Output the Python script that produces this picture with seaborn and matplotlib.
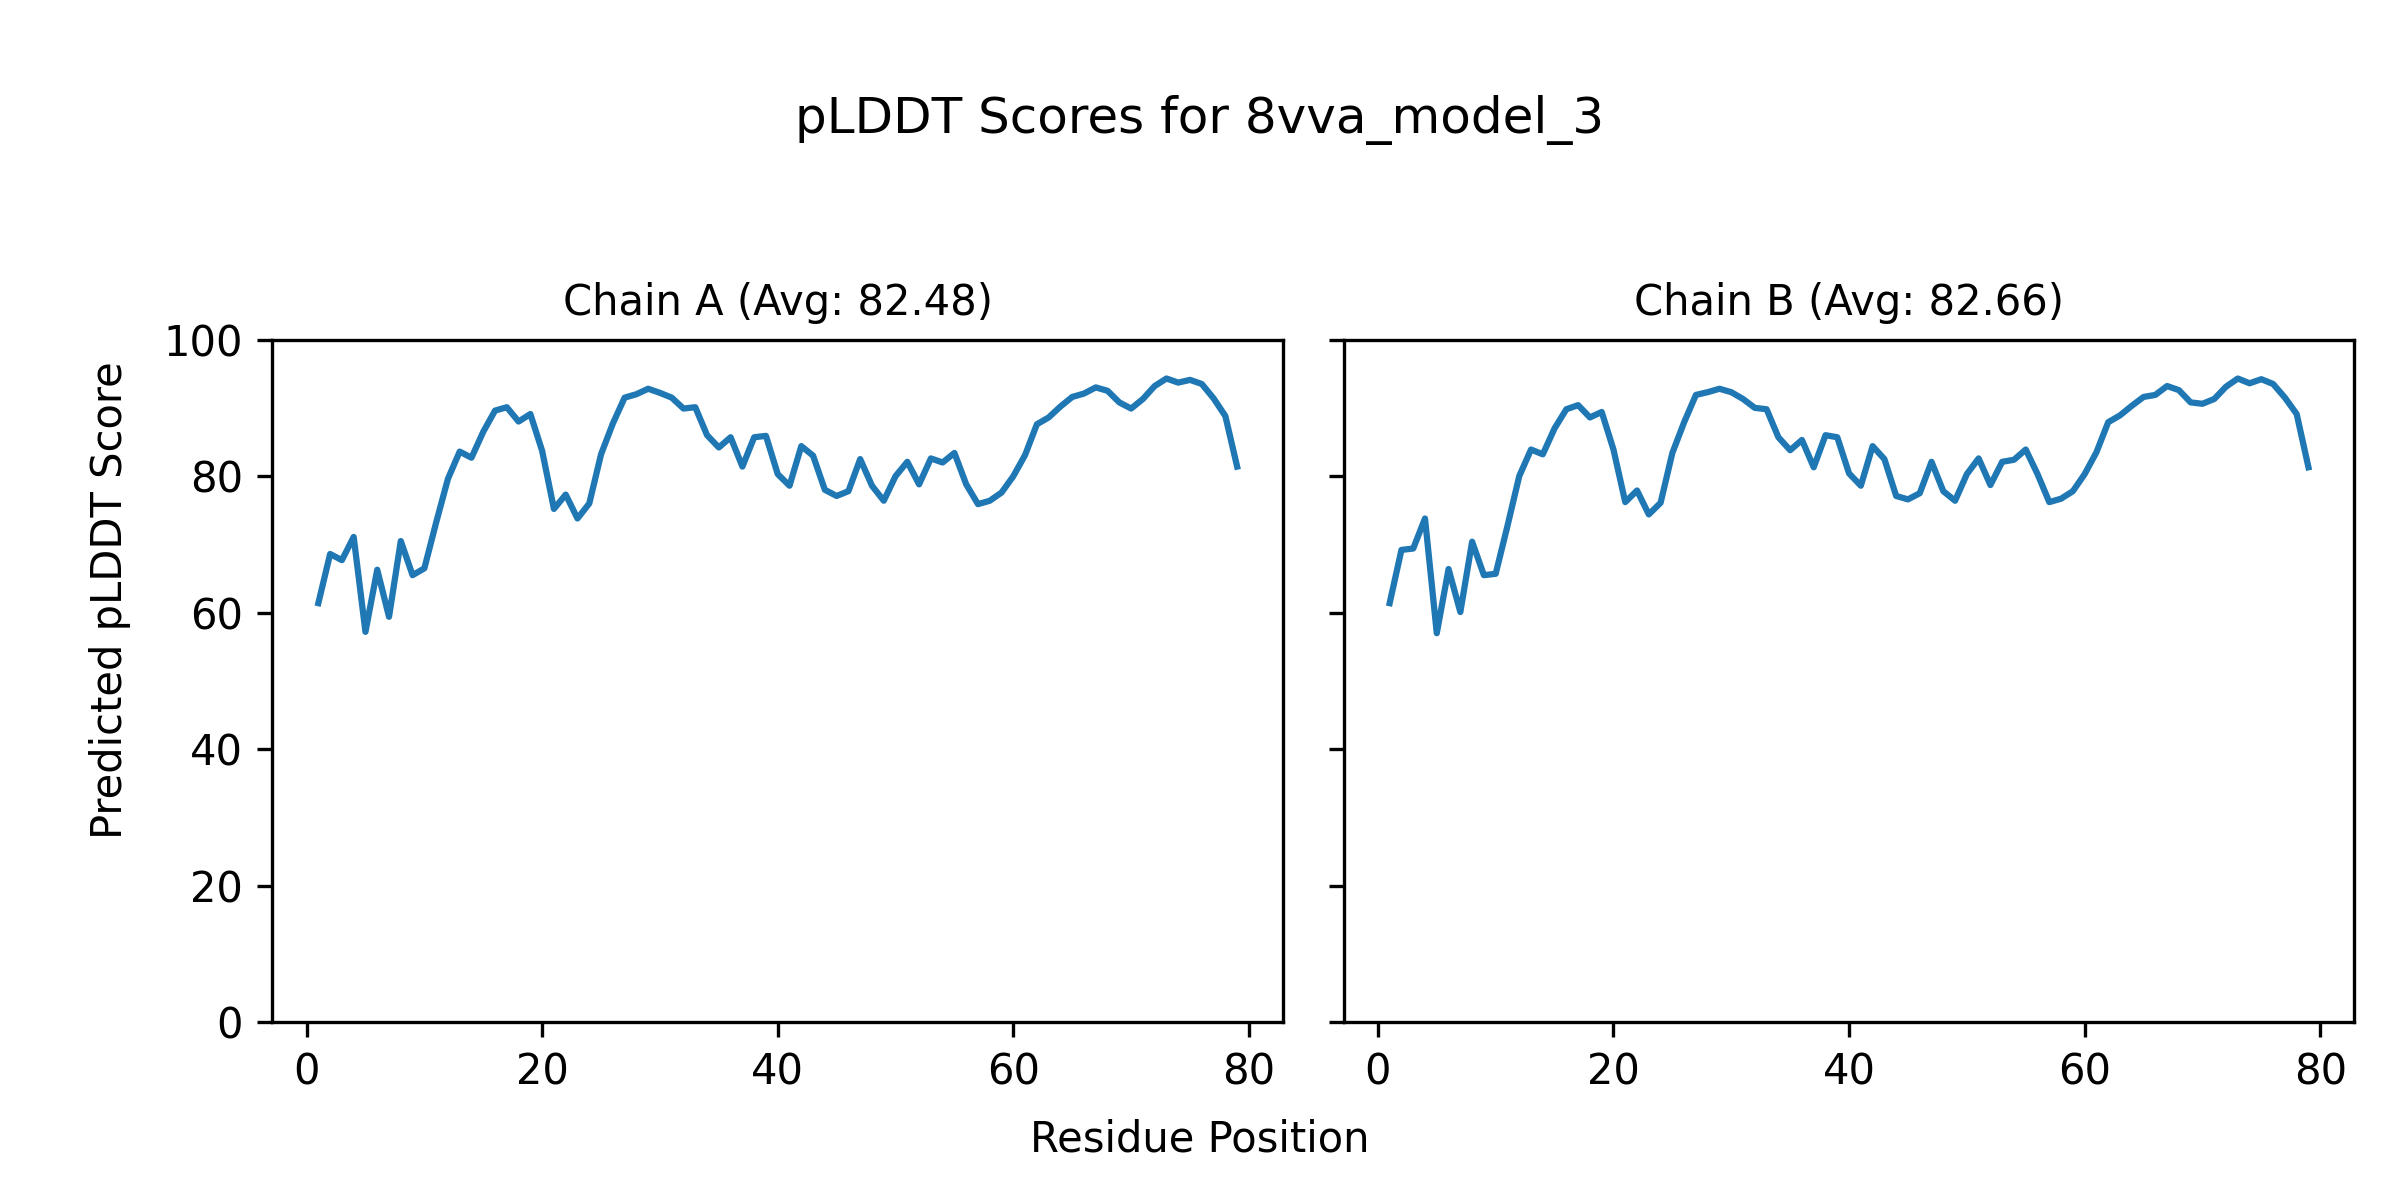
import matplotlib
matplotlib.use("Agg")
import matplotlib.pyplot as plt
import seaborn as sns
import pandas as pd

# pLDDT per residue
residues = list(range(1, 80))

chain_a = [61.4, 68.6, 67.7, 71.1, 57.2, 66.3, 59.4, 70.5, 65.5, 66.5,
           73.2, 79.6, 83.6, 82.7, 86.5, 89.6, 90.1, 88.0, 89.1, 83.7,
           75.2, 77.3, 73.8, 76.0, 83.2, 87.7, 91.5, 92.0, 92.8, 92.2,
           91.5, 89.9, 90.1, 86.0, 84.2, 85.7, 81.4, 85.7, 85.9, 80.3,
           78.6, 84.4, 83.0, 78.0, 77.1, 77.8, 82.5, 78.6, 76.4, 80.0,
           82.1, 78.8, 82.6, 82.0, 83.4, 78.8, 75.9, 76.4, 77.6, 80.0,
           83.1, 87.6, 88.6, 90.2, 91.6, 92.1, 93.0, 92.5, 90.8, 89.9,
           91.3, 93.2, 94.3, 93.7, 94.1, 93.5, 91.4, 88.8, 81.4]

chain_b = [61.4, 69.2, 69.4, 73.8, 57.0, 66.4, 60.1, 70.4, 65.5, 65.7,
           72.7, 80.0, 83.9, 83.2, 87.0, 89.8, 90.4, 88.6, 89.4, 83.9,
           76.2, 77.9, 74.4, 76.1, 83.4, 87.9, 91.9, 92.3, 92.8, 92.3,
           91.3, 90.0, 89.8, 85.7, 83.8, 85.3, 81.3, 86.0, 85.7, 80.4,
           78.6, 84.4, 82.5, 77.1, 76.6, 77.5, 82.1, 77.8, 76.4, 80.3,
           82.6, 78.7, 82.1, 82.4, 83.9, 80.3, 76.2, 76.7, 77.8, 80.3,
           83.5, 87.9, 88.9, 90.3, 91.6, 91.9, 93.2, 92.6, 90.8, 90.6,
           91.3, 93.1, 94.3, 93.6, 94.2, 93.5, 91.5, 89.1, 81.3]

chain_names = ["A", "B"]
chain_avgs = [82.48, 82.66]

fig, axes = plt.subplots(1, 2, figsize=(8, 4), dpi=300, sharey=True)

for ax, name, scores, avg in zip(axes, chain_names, [chain_a, chain_b], chain_avgs):
    df = pd.DataFrame({"residue": residues, "plddt": scores})
    sns.lineplot(data=df, x="residue", y="plddt", ax=ax, color="#1f77b4", linewidth=1.5)
    ax.set_title(f"Chain {name} (Avg: {avg:.2f})", fontsize=10)
    ax.set_xlabel("")
    ax.set_ylabel("")
    ax.set_ylim(0, 100)

fig.suptitle("pLDDT Scores for 8vva_model_3", fontsize=12, y=0.921)
fig.supxlabel("Residue Position", fontsize=10, y=0.033)
fig.supylabel("Predicted pLDDT Score", fontsize=10, x=0.037)

plt.subplots_adjust(left=0.1135, right=0.981, top=0.717, bottom=0.148, wspace=0.06)
plt.savefig("out.png", dpi=300)
